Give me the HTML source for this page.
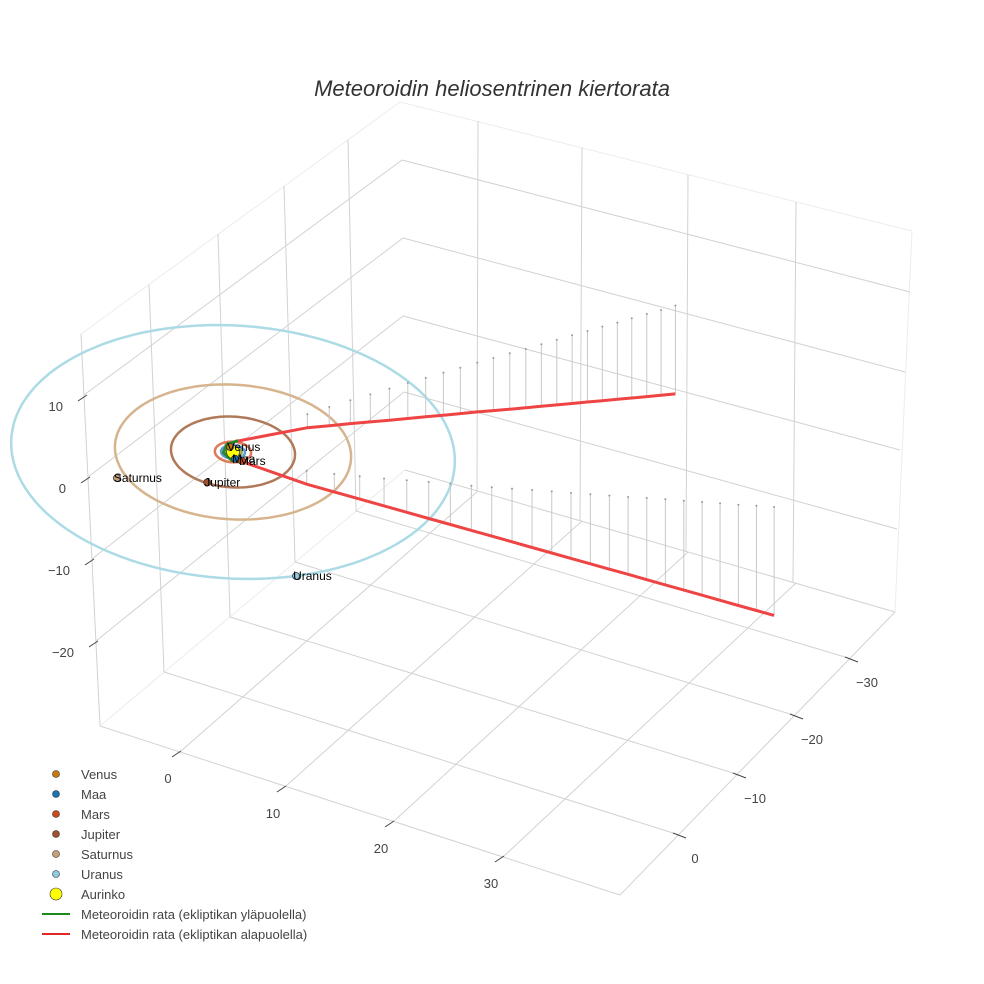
<!DOCTYPE html>
<html><head><meta charset="utf-8">
<style>
body{margin:0;background:#fff;}
svg{display:block;font-family:"Liberation Sans",sans-serif;}
</style></head>
<body>
<svg id="chart" width="984" height="984" viewBox="0 0 984 984">
<text x="492" y="96" text-anchor="middle" font-size="22" font-style="italic" fill="#333">Meteoroidin heliosentrinen kiertorata</text>
<g id="box"></g>
<g id="marks"></g>
<g id="legend"></g>
</svg>
<script>
// ---- data ----
const planetNames = ["Venus","Maa","Mars","Jupiter","Saturnus","Uranus"];
const planetX = [-0.55, 0.6, 1.25, 0.2, -6.58, 12.88];
const planetY = [-0.52, 0.8, 0.78, 5.1, 8.47, 13.43];
const orbitRadius = [0.72, 1.0, 1.52, 5.2, 9.9, 18.6];
const planetColors = ["#c87a0a","#1a74b0","#cc4a1a","#a0522d","#c8a07a","#8ccbe0"];
const orbitColors = ["#9aa84a","#5b9bd0","#e07a5a","#b07a5a","#d6b48e","#acdbe6"];
// upper branch (listed from perihelion outward)
const upX = [-0.38,2.80,3.88,4.94,5.97,6.96,7.90,8.85,9.76,10.64,11.52,12.36,13.22,14.08,14.88,15.68,16.48,17.29,18.07,18.88,19.62,20.41,21.16,21.90];
const upY = [-1.65,-8.17,-10.08,-11.88,-13.53,-15.10,-16.65,-18.08,-19.55,-20.94,-22.34,-23.65,-24.98,-26.24,-27.54,-28.81,-30.06,-31.29,-32.50,-33.68,-34.88,-36.10,-37.25,-38.44];
const upZ = [0,-1.64,-2.29,-2.86,-3.38,-3.86,-4.35,-4.75,-5.20,-5.62,-6.03,-6.44,-6.84,-7.18,-7.59,-7.98,-8.35,-8.70,-9.06,-9.38,-9.76,-10.11,-10.44,-10.80];
// lower branch
const loX = [1.39,6.55,8.75,10.73,12.64,14.38,16.07,17.74,19.38,20.95,22.50,24.03,25.53,27.03,28.50,29.96,31.39,32.80,34.22,35.64,37.04,38.42,39.83,41.19,42.55];
const loY = [0.87,-0.78,-1.56,-2.37,-3.12,-3.90,-4.64,-5.36,-6.02,-6.70,-7.41,-8.11,-8.80,-9.42,-10.10,-10.75,-11.40,-12.08,-12.73,-13.35,-13.98,-14.59,-15.21,-15.87,-16.47];
const loZ = [0,-1.65,-2.19,-2.79,-3.33,-3.92,-4.47,-4.99,-5.47,-5.97,-6.50,-7.04,-7.55,-8.00,-8.51,-9.00,-9.47,-10.0,-10.48,-10.94,-11.41,-11.87,-12.33,-12.83,-13.27];
// near-perihelion part above the ecliptic
const grX = [-0.38,-0.9,-0.6,0.5,1.39];
const grY = [-1.65,-0.6,0.6,1.2,0.87];
const grZ = [0.05,0.1,0.1,0.05,0];
const xTicks = ["0","10","20","30"];
const yTicks = ["0","−10","−20","−30"];
const zTicks = ["10","0","−10","−20"];

// ---- projection ----
const O=[233,452], EX=[10.6,3.55], EY=[-5.47,5.83], EZ=[0,-8.17];
function P(x,y,z){return [O[0]+x*EX[0]+y*EY[0]+z*EZ[0], O[1]+x*EX[1]+y*EY[1]+z*EZ[1]];}
const NS="http://www.w3.org/2000/svg";
function mk(tag,attrs,parent){const e=document.createElementNS(NS,tag);for(const k in attrs)e.setAttribute(k,attrs[k]);parent.appendChild(e);return e;}
const box=document.getElementById('box'), marks=document.getElementById('marks'), leg=document.getElementById('legend');

// ---- scene box (static geometry) ----
const G="#d2d2d2", L="#ececec";
const boxLines=[
 [81,334,400,102,L],[400,102,912,231,L],[912,231,895,612,L],[81,334,100,726,G],
 [100,726,405,470,L],[405,470,895,612,G],[100,726,620,895,G],[620,895,895,612,G],
 [84,395,402,160,G],[88,477,403,238,G],[92,559,403,316,G],[96,641,404,392,G],
 [402,160,910,292,G],[403,238,905,372,G],[403,316,900,450,G],[404,392,897,529,G],
 [149,285,164,672,G],[218,234,230,617,G],[284,186,295,562,G],[348,140,356,511,G],
 [478,121,477,491,G],[582,148,580,521,G],[688,175,686,552,G],[796,202,793,583,G],
 [181,751,478,491,G],[286,786,582,521,G],[394,821,688,552,G],[504,856,796,583,G],
 [673,833,164,672,G],[733,773,230,617,G],[790,714,295,562,G],[845,657,356,511,G]
];
boxLines.forEach(l=>{const e=mk('line',{x1:l[0],y1:l[1],x2:l[2],y2:l[3],stroke:l[4],'stroke-width':1},box);

});
const xTickPos=[[181,751],[286,786],[394,821],[504,856]];
xTickPos.forEach((p,i)=>{mk('line',{x1:p[0],y1:p[1],x2:p[0]-9,y2:p[1]+6,stroke:'#444'},box);
 const t=mk('text',{x:p[0]-13,y:p[1]+32,'text-anchor':'middle','font-size':13,fill:'#444'},box);t.textContent=xTicks[i];
 
 });
const yTickPos=[[673,833],[733,773],[790,714],[845,657]];
yTickPos.forEach((p,i)=>{mk('line',{x1:p[0],y1:p[1],x2:p[0]+13,y2:p[1]+5,stroke:'#444'},box);
 const t=mk('text',{x:p[0]+22,y:p[1]+30,'text-anchor':'middle','font-size':13,fill:'#444'},box);t.textContent=yTicks[i];
 
 });
const zTickPos=[[87,395],[90,477],[94,559],[98,641]];
zTickPos.forEach((p,i)=>{mk('line',{x1:p[0],y1:p[1],x2:p[0]-9,y2:p[1]+6,stroke:'#444'},box);
 const t=mk('text',{x:p[0]-24,y:p[1]+16,'text-anchor':'end','font-size':13,fill:'#444'},box);t.textContent=zTicks[i];
 
 });

// ---- orbits ----
orbitRadius.forEach((r,i)=>{let d="";for(let k=0;k<=120;k++){const a=k/120*2*Math.PI;const p=P(r*Math.cos(a),r*Math.sin(a),0);d+=(k?"L":"M")+p[0].toFixed(1)+","+p[1].toFixed(1);}
 const e=mk('path',{d:d,fill:'none',stroke:orbitColors[i],'stroke-width':2.5},marks);
 
 });

// ---- drop lines ----
function drops(X,Y,Z){for(let i=1;i<X.length;i++){const a=P(X[i],Y[i],Z[i]),b=P(X[i],Y[i],0);
 const e=mk('line',{x1:a[0],y1:a[1],x2:b[0],y2:b[1],stroke:'#c8c8c8','stroke-width':1},marks);
 
 
 mk('circle',{cx:b[0],cy:b[1],r:1,fill:'#999'},marks);}}
drops(upX,upY,upZ);drops(loX,loY,loZ);
function path(X,Y,Z){return X.map((x,i)=>{const p=P(x,Y[i],Z[i]);return (i?"L":"M")+p[0].toFixed(1)+","+p[1].toFixed(1);}).join("");}
let e=mk('path',{d:path(upX,upY,upZ),fill:'none',stroke:'#ee4444','stroke-width':3},marks);


e=mk('path',{d:path(loX,loY,loZ),fill:'none',stroke:'#ee4444','stroke-width':3},marks);


e=mk('path',{d:path(grX,grY,grZ),fill:'none',stroke:'#2a8a2a','stroke-width':3},marks);



// ---- sun & planets ----
const s=P(0,0,0);
e=mk('circle',{cx:s[0],cy:s[1],r:6.5,fill:'#ffff00',stroke:'#333','stroke-width':0.8},marks);


planetNames.forEach((n,i)=>{const p=P(planetX[i],planetY[i],0);
 const c=mk('circle',{cx:p[0],cy:p[1],r:3.5,fill:planetColors[i],stroke:'#333','stroke-width':0.8},marks);
 
 
 const t=mk('text',{x:p[0]-3,y:p[1]+4,'font-size':12,fill:'#000'},marks);t.textContent=n;
 
 });

// ---- legend ----
const legNames=planetNames.concat(["Aurinko"]);
const legColors=planetColors.concat(["#ffff00"]);
legNames.forEach((n,i)=>{const y=774+i*20;
 const c=mk('circle',{cx:56,cy:y,r:(n==="Aurinko"?6:3.5),fill:legColors[i],stroke:'#333','stroke-width':0.6},leg);
 
 
 const t=mk('text',{x:81,y:y+5,'font-size':13,fill:'#444'},leg);t.textContent=n;
 
 });
const lineLeg=[["Meteoroidin rata (ekliptikan yläpuolella)","#1a8a1a"],["Meteoroidin rata (ekliptikan alapuolella)","#e02828"]];
lineLeg.forEach((l,i)=>{const y=914+i*20;
 const ln=mk('line',{x1:42,y1:y,x2:70,y2:y,stroke:l[1],'stroke-width':2},leg);
 
 
 const t=mk('text',{x:81,y:y+5,'font-size':13,fill:'#444'},leg);t.textContent=l[0];
 
 });
</script>
</body></html>
